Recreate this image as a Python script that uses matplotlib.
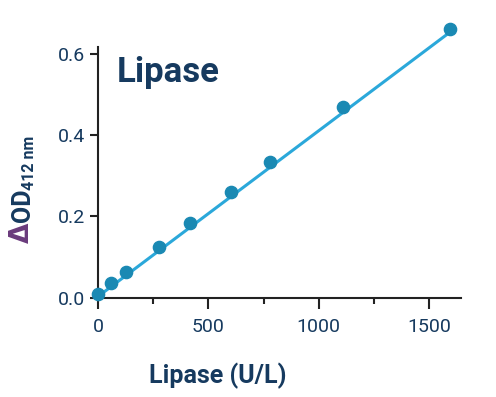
import numpy as np
import matplotlib
matplotlib.use("Agg")
import matplotlib.pyplot as plt
from matplotlib.ticker import MultipleLocator

# -------------------------------
# DATA
# -------------------------------
lipase = [0, 57, 127, 278, 418, 601, 779, 1112, 1593]
delta_od = [0.008, 0.037, 0.064, 0.126, 0.185, 0.261, 0.333, 0.470, 0.662]
x_ticks = [0, 500, 1000, 1500]
y_ticks = [0.0, 0.2, 0.4, 0.6]

# fitted standard curve as drawn in the reference
fit_slope = 0.000408
fit_intercept = 0.003

navy = "#163a5f"
dot_col = "#1a89b3"
line_col = "#2ba8da"
purple = "#6a3b7c"

plt.rcParams["font.family"] = ["Roboto", "DejaVu Sans"]

W, H = 496, 397
fig = plt.figure(figsize=(W / 100, H / 100), dpi=100)
ax = fig.add_axes([98 / W, 1 - 297.7 / H, (460.7 - 98) / W, (297.7 - 47) / H])

xf = np.array([0, lipase[-1]])
ax.plot(xf, fit_slope * xf + fit_intercept, color=line_col, lw=2.2, zorder=2,
        solid_capstyle="butt", clip_on=False)
ax.plot(lipase, delta_od, "o", color=dot_col, ms=8.8, zorder=3, clip_on=False)

ax.set_xlim(0, 1643)
ax.set_ylim(0, 0.617)
ax.set_xticks(x_ticks)
ax.set_yticks(y_ticks)
ax.set_xticklabels([str(v) for v in x_ticks])
ax.set_yticklabels([f"{v:.1f}" for v in y_ticks])
ax.xaxis.set_minor_locator(MultipleLocator(250))

for s in ["top", "right"]:
    ax.spines[s].set_visible(False)
for s in ["left", "bottom"]:
    ax.spines[s].set_linewidth(1.5)
    ax.spines[s].set_color("#222222")

ax.tick_params(axis="x", which="major", length=8, width=1.5, pad=6.5,
               labelsize=14, labelcolor=navy, color="#222222")
ax.tick_params(axis="x", which="minor", length=4.5, width=1.5, color="#222222")
ax.tick_params(axis="y", which="major", length=6, width=1.5, pad=3.5,
               labelsize=14, labelcolor=navy, color="#222222")

# title inside the plot
fig.text(117 / W, 1 - 82 / H, "Lipase", ha="left", va="baseline",
         fontsize=25, weight="bold", color=navy)

# x label
fig.text(217.5 / W, 1 - 383 / H, "Lipase (U/L)", ha="center", va="baseline",
         fontsize=18, weight="bold", color=navy)

# y label: delta OD with subscript
fig.text(29 / W, 1 - 223 / H, "\u0394", rotation=90, rotation_mode="anchor",
         ha="right", va="baseline", fontsize=19, family="DejaVu Sans",
         weight="bold", color=purple)
fig.text(30 / W, 1 - 222 / H, "OD", rotation=90, rotation_mode="anchor",
         ha="left", va="baseline", fontsize=18, weight="bold", color=navy)
fig.text(33.5 / W, 1 - 190 / H, "412 nm", rotation=90, rotation_mode="anchor",
         ha="left", va="baseline", fontsize=11.5, weight="bold", color=navy)

fig.savefig("out.png", dpi=100)
